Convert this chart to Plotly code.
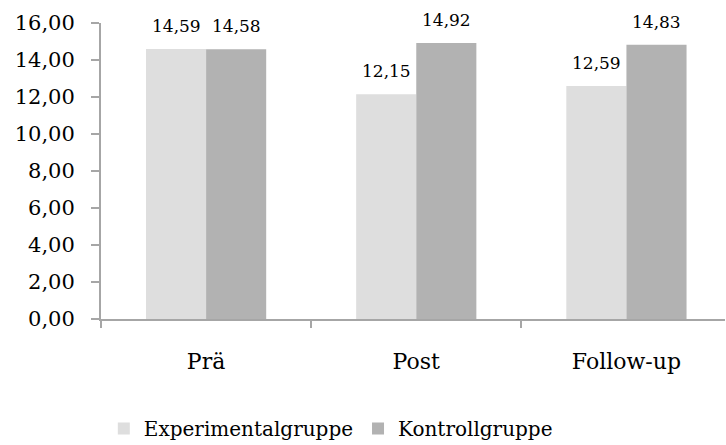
import plotly.graph_objects as go

categories = ["Prä", "Post", "Follow-up"]
experimental = [14.59, 12.15, 12.59]
kontroll = [14.58, 14.92, 14.83]
series_names = ["Experimentalgruppe", "Kontrollgruppe"]
colors = ["#DEDEDE", "#B2B2B2"]

FONT = "DejaVu Serif"
AXIS_GRAY = "#A6A6A6"

fig = go.Figure()
for name, vals, col in zip(series_names, [experimental, kontroll], colors):
    fig.add_trace(go.Bar(
        x=categories, y=vals, name=name,
        marker=dict(color=col, line=dict(width=0)),
    ))

# value labels above each bar
offset = 0.143
for sign, vals in [(-1, experimental), (1, kontroll)]:
    for i, v in enumerate(vals):
        fig.add_annotation(
            x=i + sign * offset, y=v, xref="x", yref="y",
            text=f"{v:.2f}".replace(".", ","),
            showarrow=False, yanchor="bottom", yshift=11,
            font=dict(family=FONT, size=17, color="#000000"),
        )

fig.update_layout(
    width=726, height=445,
    margin=dict(l=101, r=1, t=23, b=126),
    paper_bgcolor="white", plot_bgcolor="white",
    separators=",.",
    barmode="group", bargap=0.428, bargroupgap=0,
    showlegend=True,
    legend=dict(
        orientation="h", xref="container", yref="container",
        x=0.143, y=0.037, xanchor="left", yanchor="middle",
        font=dict(family=FONT, size=20, color="#000000"),
        itemwidth=30, tracegroupgap=0,
    ),
    font=dict(family=FONT, color="#000000"),
)
fig.update_xaxes(
    type="category", range=[-0.5, 2.469],
    showline=True, linecolor=AXIS_GRAY, linewidth=2,
    ticks="outside", ticklen=7, tickcolor=AXIS_GRAY, tickwidth=2,
    tickson="boundaries", showgrid=False, zeroline=False,
    tickfont=dict(family=FONT, size=22, color="#000000"),
    ticklabelstandoff=22,
)
fig.update_yaxes(
    range=[0, 16], dtick=2, tickformat=".2f",
    showline=True, linecolor=AXIS_GRAY, linewidth=2,
    ticks="outside", ticklen=8, tickcolor=AXIS_GRAY, tickwidth=2,
    showgrid=False, zeroline=False,
    tickfont=dict(family=FONT, size=21, color="#000000"),
    ticklabelstandoff=12,
)

fig.write_html("out.html")
